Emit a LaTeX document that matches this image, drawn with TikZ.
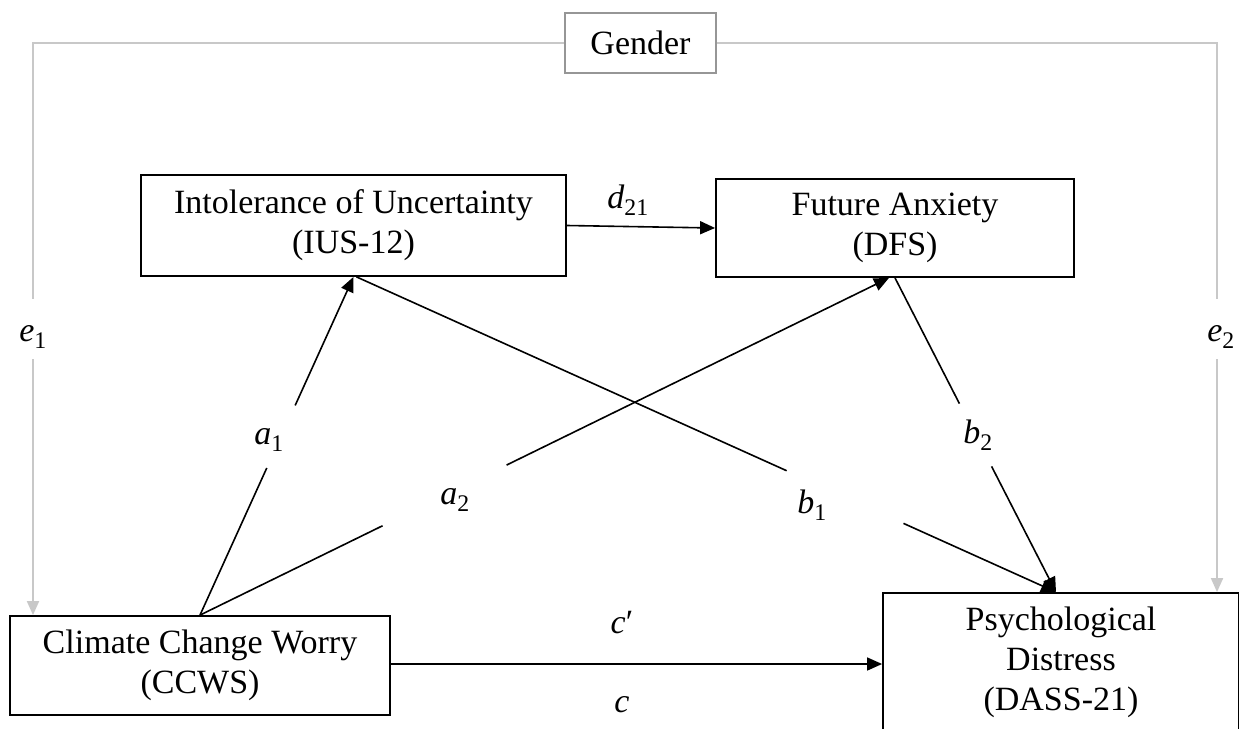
\documentclass[tikz,border=0pt]{standalone}
\usepackage{fontspec}
\setmainfont{Liberation Serif}
\usetikzlibrary{arrows.meta,calc}
\definecolor{lgray}{RGB}{200,200,200}
\definecolor{bgray}{RGB}{150,150,150}
\begin{document}
\begin{tikzpicture}[x=1pt,y=-1pt,
  txt/.style={font=\fontsize{34}{40}\selectfont},
  box/.style={txt, draw=black, line width=1.8pt, align=center, inner sep=0pt},
  gbox/.style={txt, draw=bgray, line width=1.8pt, inner sep=0pt},
  ln/.style={line width=1.6pt},
  arr/.style={ln, -{Triangle[length=15pt,width=13pt]}},
  gln/.style={draw=lgray, line width=1.8pt},
  garr/.style={gln, -{Triangle[length=14pt,width=12pt]}},
  lbl/.style={txt, inner sep=0pt}]
\useasboundingbox (0,0) rectangle (1239,728);
\clip (0,0) rectangle (1239,728);

% nodes
\node[gbox, minimum width=151pt, minimum height=60pt] (gender) at (640.5,43) {Gender};
\node[box, minimum width=425pt, minimum height=101pt] (ius) at (353.5,225.5) {Intolerance of Uncertainty\\(IUS-12)};
\node[box, minimum width=358pt, minimum height=98pt] (dfs) at (895,228) {Future Anxiety\\(DFS)};
\node[box, minimum width=380pt, minimum height=99pt] (ccws) at (200,665.5) {Climate Change Worry\\(CCWS)};
\node[box, minimum width=356pt, minimum height=138pt] (psych) at (1061,662) {Psychological\\Distress\\(DASS-21)};

% labels
\node[lbl] (e1) at (33,337) {\textit{e}\textsubscript{1}};
\node[lbl] (e2) at (1221,337) {\textit{e}\textsubscript{2}};
\node[lbl] (d21) at (628,200) {\textit{d}\textsubscript{21}};
\node[lbl] (a1) at (269,440) {\textit{a}\textsubscript{1}};
\node[lbl] (a2) at (455,500) {\textit{a}\textsubscript{2}};
\node[lbl] (b1) at (812,505) {\textit{b}\textsubscript{1}};
\node[lbl] (b2) at (978,435) {\textit{b}\textsubscript{2}};
\node[lbl] (cp) at (622,623) {\textit{c}′};
\node[lbl] (c) at (622,705) {\textit{c}};

% helper coordinates
\coordinate (gl) at (33,43);
\coordinate (gr) at (1217,43);
\coordinate (cy) at (0,664);
\coordinate (dfsin) at ($(dfs.south)+(-6,0)$);
\coordinate (iusout) at ($(ius.south)+(3,0)$);
\coordinate (pin) at ($(psych.north)+(-5,0)$);

% gray covariate paths
\draw[gln] (gender.west) -- (gl) -- ($(gl |- e1.center)+(0,-38)$);
\draw[garr] ($(gl |- e1.center)+(0,22)$) -- (gl |- ccws.north);
\draw[gln] (gender.east) -- (gr) -- ($(gr |- e2.center)+(0,-38)$);
\draw[garr] ($(gr |- e2.center)+(0,22)$) -- (gr |- psych.north);

% d21
\draw[arr] (ius.east) -- (dfs.west);

% a1
\draw[ln] (ccws.north) -- ($(ccws.north)!0.435!(ius.south)$);
\draw[arr] ($(ccws.north)!0.62!(ius.south)$) -- (ius.south);
% a2
\draw[ln] (ccws.north) -- ($(ccws.north)!0.265!(dfsin)$);
\draw[arr] ($(ccws.north)!0.445!(dfsin)$) -- (dfsin);
% b1
\draw[ln] (iusout) -- ($(iusout)!0.615!(pin)$);
\draw[arr] ($(iusout)!0.782!(pin)$) -- (pin);
% b2
\draw[ln] (dfs.south) -- ($(dfs.south)!0.40!(pin)$);
\draw[arr] ($(dfs.south)!0.60!(pin)$) -- (pin);
% c
\draw[arr] (ccws.east |- cy) -- (psych.west |- cy);
\end{tikzpicture}
\end{document}
